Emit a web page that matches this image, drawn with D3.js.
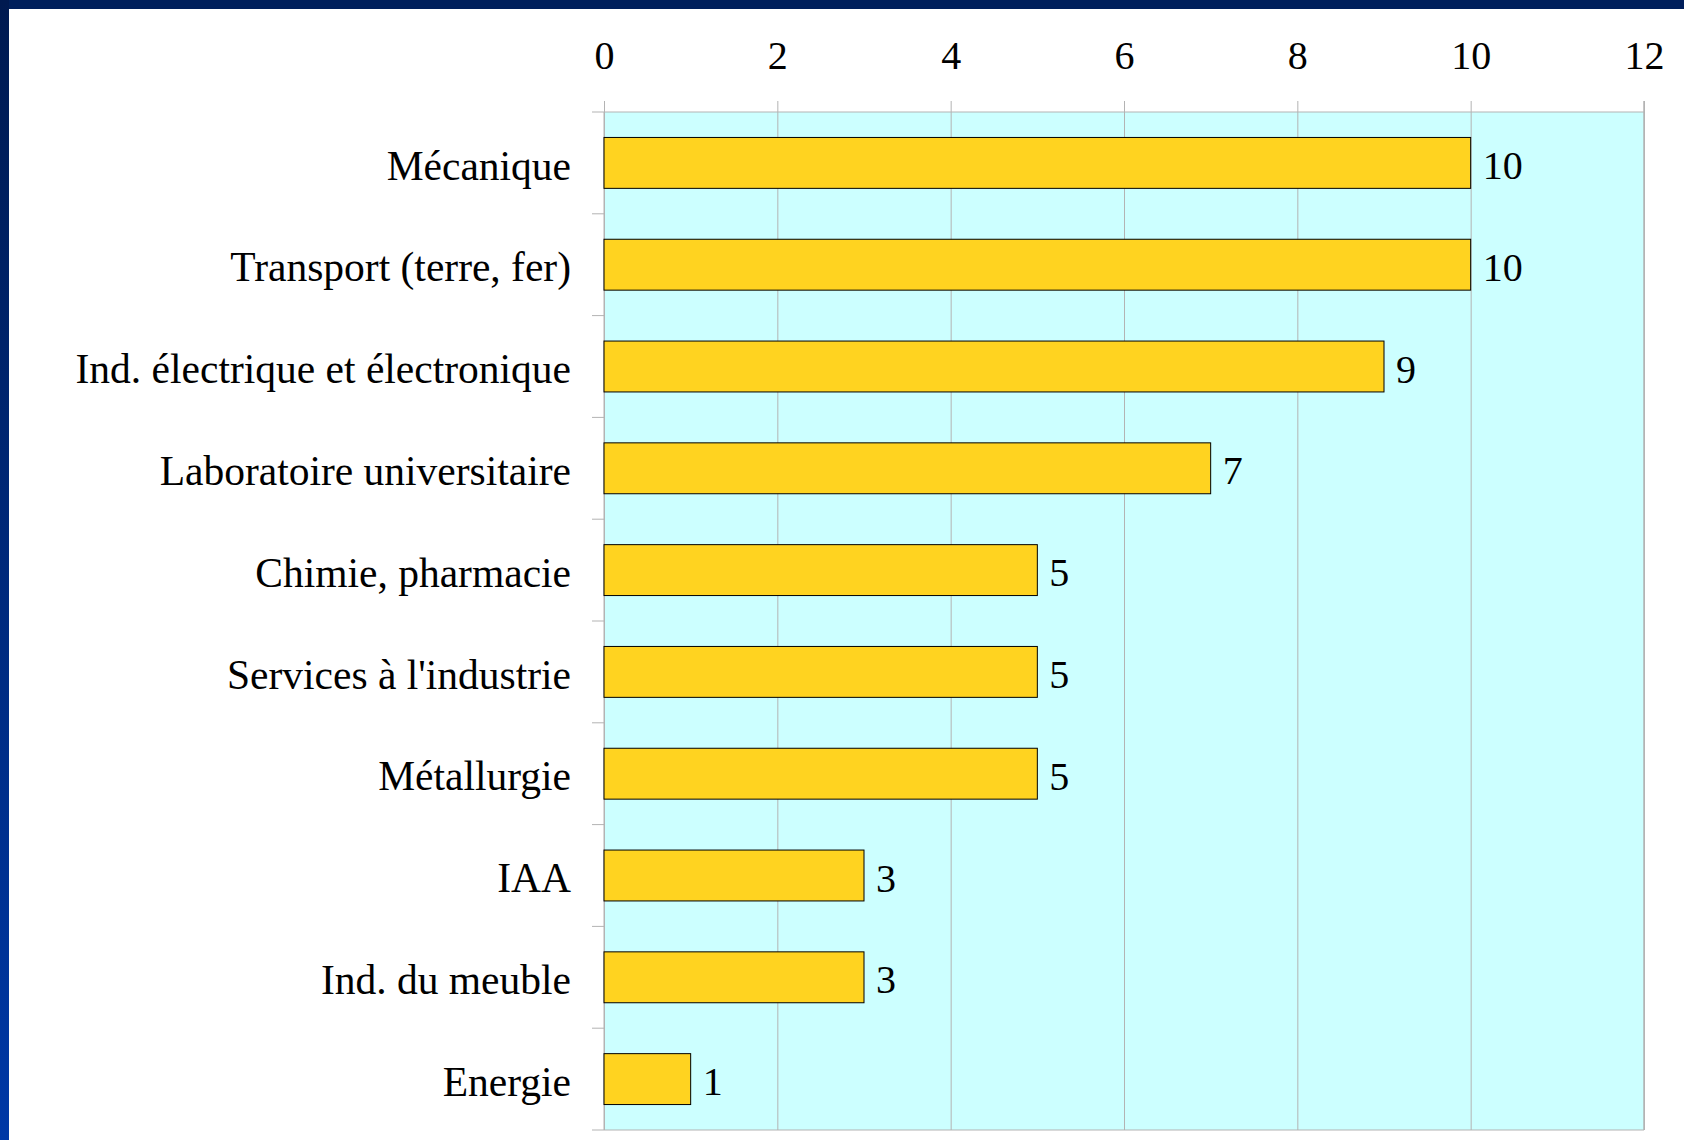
<!DOCTYPE html>
<html>
<head>
<meta charset="utf-8">
<script src="https://cdn.jsdelivr.net/npm/d3@7"></script>
<style>
  body { margin: 0; background: #ffffff; }
  svg { display: block; }
  text { font-family: "Liberation Serif", "Times New Roman", serif; fill: #000; }
</style>
</head>
<body>
<div class="chart"></div>
<script>
// data
var categories = ["Mécanique", "Transport (terre, fer)", "Ind. électrique et électronique",
  "Laboratoire universitaire", "Chimie, pharmacie", "Services à l'industrie",
  "Métallurgie", "IAA", "Ind. du meuble", "Energie"];
var values = [10, 10, 9, 7, 5, 5, 5, 3, 3, 1];
var xTicks = [0, 2, 4, 6, 8, 10, 12];

var width = 1684;
var height = 1140;

var svg = d3.select(".chart").append("svg")
    .attr("width", width)
    .attr("height", height);

// slide border
var defs = svg.append("defs");
var grad = defs.append("linearGradient")
    .attr("id", "sideGrad")
    .attr("x1", "0%").attr("y1", "0%").attr("x2", "0%").attr("y2", "100%");
grad.append("stop").attr("offset", "0%").attr("stop-color", "#001a50");
grad.append("stop").attr("offset", "100%").attr("stop-color", "#0038a6");

svg.append("rect").attr("x", 0).attr("y", 0).attr("width", width).attr("height", height).attr("fill", "#ffffff");
svg.append("rect").attr("x", 0).attr("y", 0).attr("width", width).attr("height", 9).attr("fill", "#001f5b");
svg.append("rect").attr("x", 0).attr("y", 0).attr("width", 9).attr("height", height).attr("fill", "url(#sideGrad)");

var plotLeft = 604, plotRight = 1644, plotTop = 112, plotBottom = 1130;

var x = d3.scaleLinear()
    .domain([0, 12])
    .range([plotLeft, plotRight]);

var y = d3.scaleBand()
    .domain(categories)
    .range([plotTop, plotBottom])
    .paddingInner(0.5)
    .paddingOuter(0.25);

// plot area
svg.append("rect")
    .attr("x", plotLeft).attr("y", plotTop)
    .attr("width", plotRight - plotLeft).attr("height", plotBottom - plotTop)
    .attr("fill", "#ccffff");

// x axis with grid lines
var xAxis = d3.axisTop(x)
    .tickValues(xTicks)
    .tickSize(-(plotBottom - plotTop + 11))
    .tickPadding(32);

var gx = svg.append("g")
    .attr("transform", "translate(0," + (plotTop - 11) + ")")
    .call(xAxis);
gx.select(".domain").remove();
gx.selectAll(".tick line").attr("stroke", "#b3b3b3").attr("stroke-width", 1);
gx.selectAll(".tick text")
    .attr("font-size", "40px")
    .style("font-family", "'Liberation Serif', serif")
    .attr("fill", "#000");

// category boundary ticks + top/bottom edges
var bounds = categories.map(function(c) { return y(c) - y.step() * y.paddingInner() / 2; });
bounds[0] = plotTop;
bounds.push(plotBottom);
svg.append("g").selectAll("line")
    .data(bounds)
  .enter().append("line")
    .attr("x1", plotLeft - 12)
    .attr("x2", function(d, i) { return (i == 0 || i == bounds.length - 1) ? plotRight : plotLeft; })
    .attr("y1", function(d) { return d; })
    .attr("y2", function(d) { return d; })
    .attr("stroke", "#b3b3b3")
    .attr("stroke-width", 1);

// plot edges
svg.append("line").attr("x1", plotLeft).attr("x2", plotLeft).attr("y1", plotTop).attr("y2", plotBottom)
    .attr("stroke", "#b3b3b3");
svg.append("line").attr("x1", plotRight).attr("x2", plotRight).attr("y1", plotTop - 11).attr("y2", plotBottom)
    .attr("stroke", "#b3b3b3").attr("stroke-width", 1.5);

// bars
svg.append("g").selectAll("rect")
    .data(values)
  .enter().append("rect")
    .attr("x", x(0))
    .attr("y", function(d, i) { return y(categories[i]); })
    .attr("width", function(d) { return x(d) - x(0); })
    .attr("height", y.bandwidth())
    .attr("fill", "#ffd320")
    .attr("stroke", "#000")
    .attr("stroke-width", 1);

// category labels
svg.append("g").selectAll("text")
    .data(categories)
  .enter().append("text")
    .attr("x", plotLeft - 33)
    .attr("y", function(d) { return y(d) + y.bandwidth() / 2; })
    .attr("dy", "0.4em")
    .attr("text-anchor", "end")
    .attr("font-size", "41.5px")
    .text(function(d) { return d; });

// value labels
svg.append("g").selectAll("text")
    .data(values)
  .enter().append("text")
    .attr("x", function(d) { return x(d) + 12; })
    .attr("y", function(d, i) { return y(categories[i]) + y.bandwidth() / 2; })
    .attr("dy", "0.4em")
    .attr("font-size", "40px")
    .text(function(d) { return d; });
</script>
</body>
</html>
